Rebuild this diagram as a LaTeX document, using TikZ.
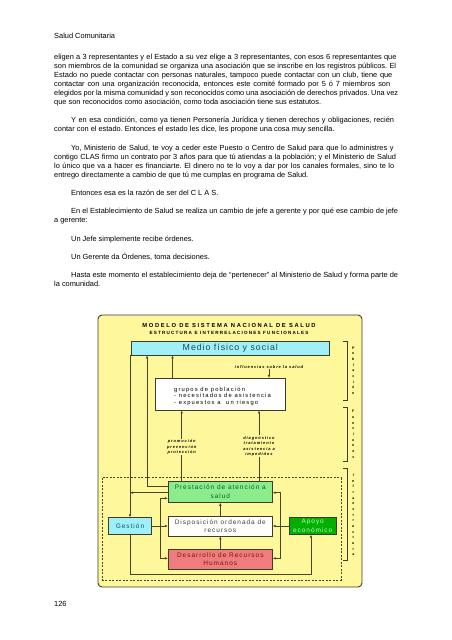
\documentclass[tikz,border=0pt]{standalone}
\usepackage{fontspec}
\setmainfont{Liberation Sans}
\newfontfamily\cajafont[LetterSpace=15]{Liberation Sans}
\newfontfamily\mediofont[LetterSpace=11]{Liberation Sans}
\newfontfamily\gruposfont[LetterSpace=20]{Liberation Sans}
\newfontfamily\titulofont[LetterSpace=28]{Liberation Sans}
\newfontfamily\subtitulofont[LetterSpace=26]{Liberation Sans}
\newfontfamily\notafont[LetterSpace=22]{Liberation Sans}
\usetikzlibrary{arrows.meta}
\definecolor{panel}{RGB}{255,247,155}
\definecolor{borde}{RGB}{60,60,45}
\definecolor{trazo}{RGB}{70,70,35}
\definecolor{cian}{RGB}{160,240,250}
\definecolor{verdeclaro}{RGB}{140,236,140}
\definecolor{rojoclaro}{RGB}{240,125,125}
\definecolor{verde}{RGB}{0,175,0}
\definecolor{textomedio}{RGB}{30,70,90}
\definecolor{textoverde}{RGB}{0,100,50}
\definecolor{textocian}{RGB}{0,90,110}
\definecolor{textorojo}{RGB}{120,20,20}
\definecolor{textoapoyo}{RGB}{190,255,190}
\tikzset{
  caja/.style={draw=borde, line width=0.8pt, inner sep=0pt, align=center,
    font=\cajafont\fontsize{6.5}{8.6}\selectfont},
  linea/.style={draw=trazo, line width=0.8pt},
  flecha/.style={linea, -{Latex[length=3pt,width=2.6pt]}},
  nota/.style={inner sep=1pt, align=center,
    font=\notafont\fontsize{4}{5.3}\selectfont\bfseries\itshape},
  letras/.style={inner sep=0pt, align=center,
    font=\fontsize{3.6}{5.65}\selectfont\bfseries},
  corchete/.style={draw=borde, line width=0.7pt}
}
\begin{document}
\begin{tikzpicture}[x=1pt,y=-1pt]
  \useasboundingbox (0,0) rectangle (452,640);
  \node[anchor=base west, inner sep=0pt, font=\fontsize{7.4}{9.1}\selectfont] (cabecera) at (54,38.4) {Salud Comunitaria};
  \node[anchor=north west, inner sep=0pt, text width=344pt, font=\fontsize{7.4}{9.1}\selectfont] (texto) at (54,53.6) {%
    \setlength\parindent{17pt}\setlength\parskip{9.1pt}\hyphenpenalty=10000\frenchspacing
    \spaceskip=2.05pt plus 1.6pt minus 1pt\relax
    \tolerance=9999\emergencystretch=0pt
    \noindent eligen a 3 representantes y el Estado a su vez elige a 3 representantes, con esos 6 representantes que\linebreak
    son miembros de la comunidad se organiza una asociación que se inscribe en los registros públicos. El\linebreak
    Estado no puede contactar con personas naturales, tampoco puede contactar con un club, tiene que\linebreak
    contactar con una organización reconocida, entonces este comité formado por 5 ó 7 miembros son\linebreak
    elegidos por la misma comunidad y son reconocidos como una asociación de derechos privados. Una vez\linebreak
    que son reconocidos como asociación, como toda asociación tiene sus estatutos.\par
    Y en esa condición, como ya tienen Personería Jurídica y tienen derechos y obligaciones, recién\linebreak
    contar con el estado. Entonces el estado les dice, les propone una cosa muy sencilla.\par
    Yo, Ministerio de Salud, te voy a ceder este Puesto o Centro de Salud para que lo administres y\linebreak
    contigo CLAS firmo un contrato por 3 años para que tú atiendas a la población; y el Ministerio de Salud\linebreak
    lo único que va a hacer es financiarte. El dinero no te lo voy a dar por los canales formales, sino te lo\linebreak
    entrego directamente a cambio de que tú me cumplas en programa de Salud.\par
    Entonces esa es la razón de ser del C L A S.\par
    En el Establecimiento de Salud se realiza un cambio de jefe a gerente y por qué ese cambio de jefe\linebreak
    a gerente:\par
    Un Jefe simplemente recibe órdenes.\par
    Un Gerente da Órdenes, toma decisiones.\par
    Hasta este momento el establecimiento deja de “pertenecer” al Ministerio de Salud y forma parte de\linebreak
    la comunidad.\par};

  \draw[draw=borde, fill=panel, line width=0.9pt, rounded corners=4pt] (98,315) rectangle (362,587);
  \draw[linea, line width=0.7pt, dash pattern=on 2pt off 1.5pt] (102.7,477.7) rectangle (341,580);

  \node[font=\titulofont\fontsize{5.8}{6}\selectfont\bfseries] (titulo) at (229,325.3) {MODELO DE SISTEMA NACIONAL DE SALUD};
  \node[font=\subtitulofont\fontsize{4.6}{5}\selectfont\bfseries] (subtitulo) at (229,332.7) {ESTRUCTURA E INTERRELACIONES FUNCIONALES};

  \node[caja, fill=cian, minimum width=197.3pt, minimum height=13.3pt, text=textomedio,
    font=\mediofont\fontsize{8.8}{9}\selectfont] (medio) at (230.3,348.3) {Medio físico y social};
  \node[nota] (influencias) at (269,366.7) {influencias sobre la salud};
  \node[caja, fill=white, minimum width=129.3pt, minimum height=31.7pt] (grupos) at (220.3,394.2) {};
  \node[anchor=west, align=left, inner sep=0pt, font=\gruposfont\fontsize{5.8}{6.3}\selectfont] (grupostexto) at (174,396.2)
    {grupos de población\\- necesitados de asistencia\\- expuestos a\ \ un riesgo};
  \node[nota] (promocion) at (181.7,447) {promoción\\prevención\\protección};
  \node[nota] (diagnostico) at (259,446.4) {diagnóstico\\tratamiento\\asistencia a\\impedidos};

  \node[caja, fill=verdeclaro, minimum width=104pt, minimum height=21.3pt, text=textoverde] (prestacion) at (220.3,491.7) {Prestación de atención a\\salud};
  \node[caja, fill=white, minimum width=104pt, minimum height=20pt, text=black!75] (disposicion) at (220.3,526) {Disposición ordenada de\\recursos};
  \node[caja, fill=rojoclaro, minimum width=104pt, minimum height=19.7pt, text=textorojo] (desarrollo) at (220.3,559.2) {Desarrollo de Recursos\\Humanos};
  \node[caja, fill=cian, minimum width=43.4pt, minimum height=16.6pt, text=textocian] (gestion) at (130,526) {Gestión};
  \node[caja, fill=verde, minimum width=46.7pt, minimum height=16.6pt, text=textoapoyo] (apoyo) at (312.7,526) {Apoyo\\económico};

  \coordinate (subir) at (147,486.7);
  \coordinate (cruce) at (130,492.7);
  \coordinate (pob) at (172.5,366);
  \coordinate (izq) at (160,526);
  \coordinate (izqarriba) at (160,498.3);
  \coordinate (izqabajo) at (160,558.3);
  \coordinate (der) at (280.7,526);
  \coordinate (derarriba) at (280.7,492.7);
  \coordinate (derabajo) at (280.7,558.3);
  \coordinate (fondo) at (311,574.3);

  \draw[flecha] (medio.south -| gestion) -- (gestion.north);
  \draw[flecha] (prestacion.west |- subir) -| (medio.south -| subir);
  \draw[flecha] (prestacion.west |- cruce) -- (cruce);
  \draw[flecha] (grupos.north -| pob) -- (medio.south -| pob);
  \draw[flecha] (influencias.south) -- (grupos.north -| influencias);
  \draw[linea] (prestacion.north -| promocion) -- (promocion.south);
  \draw[flecha] (promocion.north) -- (grupos.south -| promocion);
  \draw[linea] (prestacion.north -| diagnostico) -- (diagnostico.south);
  \draw[flecha] (diagnostico.north) -- (grupos.south -| diagnostico);

  \draw[flecha] (gestion.east) -- (disposicion.west);
  \draw[flecha] (izq) -- (izqarriba) -- (prestacion.west |- izqarriba);
  \draw[flecha] (izq) -- (izqabajo) -- (desarrollo.west |- izqabajo);
  \draw[flecha] (disposicion.north) -- (prestacion.south);
  \draw[flecha] (desarrollo.north) -- (disposicion.south);
  \draw[flecha] (apoyo.west) -- (disposicion.east);
  \draw[flecha] (der) -- (derarriba) -- (prestacion.east |- derarriba);
  \draw[flecha] (der) -- (derabajo) -- (desarrollo.east |- derabajo);
  \draw[flecha] (gestion.south) |- (fondo) -- (apoyo.south -| fondo);

  \draw[corchete] (343.3,341.7) -- (347.3,341.7) -- (347.3,400.7) -- (343.3,400.7);
  \draw[corchete] (343.3,407.7) -- (347.3,407.7) -- (347.3,461.7) -- (343.3,461.7);
  \draw[corchete] (343.3,468.3) -- (347.3,468.3) -- (347.3,560.7) -- (343.3,560.7);
  \node[letras] (poblacion) at (353.3,370.5) {P\\o\\b\\l\\a\\c\\i\\ó\\n};
  \node[letras] (funciones) at (353.3,434.2) {F\\u\\n\\c\\i\\o\\n\\e\\s};
  \node[letras] (infraestructura) at (353.3,515) {I\\n\\f\\r\\a\\e\\s\\t\\r\\u\\c\\t\\u\\r\\a};

  \node[anchor=base west, inner sep=0pt, font=\fontsize{7.4}{9.1}\selectfont] (pagina) at (54,606.7) {126};
\end{tikzpicture}
\end{document}
